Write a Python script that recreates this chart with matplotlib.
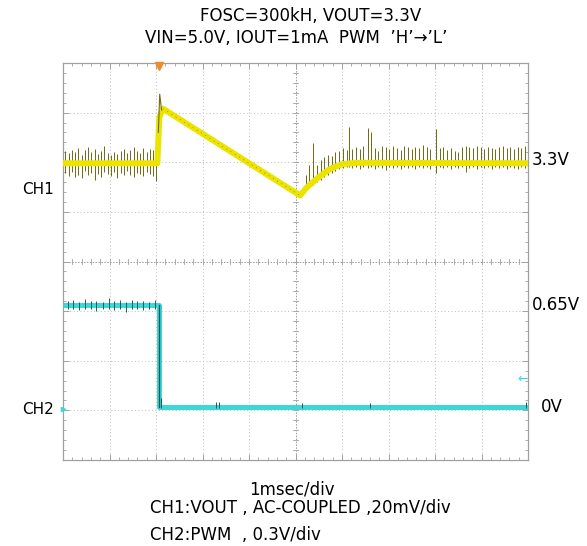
import numpy as np
import matplotlib
matplotlib.use("Agg")
from matplotlib import pyplot as plt

plt.rcParams['font.family'] = ['DejaVu Sans']

# screen units: x in divisions (0..10), y in divisions (-4..4)
ch1_x = [0.0, 2.03, 2.07, 2.15, 5.10, 5.25, 5.50, 5.75, 6.00, 6.30, 10.0]
ch1_y = [1.98, 1.98, 2.90, 3.08, 1.33, 1.50, 1.70, 1.87, 1.96, 1.99, 1.98]

ch1_spk_left_x = [0.05, 0.12, 0.19, 0.26, 0.33, 0.40, 0.47, 0.54, 0.61, 0.68,
                  0.75, 0.82, 0.89, 0.96, 1.03, 1.10, 1.17, 1.24, 1.31, 1.38,
                  1.45, 1.52, 1.59, 1.66, 1.73, 1.80, 1.87, 1.94, 2.00]
ch1_spk_left_top = [2.22, 2.18, 2.25, 2.20, 2.28, 2.15, 2.24, 2.30, 2.20, 2.26,
                    2.17, 2.22, 2.32, 2.19, 2.14, 2.20, 2.16, 2.23, 2.27, 2.18,
                    2.25, 2.31, 2.22, 2.19, 2.28, 2.21, 2.26, 2.24, 2.33]
ch1_spk_left_bot = [1.78, 1.72, 1.80, 1.70, 1.75, 1.68, 1.82, 1.74, 1.79, 1.65,
                    1.77, 1.71, 1.80, 1.76, 1.73, 1.81, 1.69, 1.78, 1.74, 1.82,
                    1.75, 1.70, 1.79, 1.76, 1.72, 1.80, 1.77, 1.73, 1.62]

ch1_spk_right_x = [5.22, 5.30, 5.38, 5.46, 5.54, 5.62, 5.70, 5.78, 5.86, 5.94,
                   6.02, 6.10, 6.15, 6.22, 6.30, 6.38, 6.46, 6.56, 6.62, 6.70,
                   6.78, 6.86, 6.94, 7.02, 7.10, 7.18, 7.26, 7.34, 7.42, 7.50,
                   7.58, 7.66, 7.74, 7.82, 7.90, 8.02, 8.10, 8.18, 8.26, 8.34,
                   8.42, 8.50, 8.58, 8.66, 8.74, 8.82, 8.90, 8.98, 9.06, 9.14,
                   9.22, 9.30, 9.38, 9.46, 9.54, 9.62, 9.70, 9.78, 9.86, 9.94]
ch1_spk_right_top = [1.75, 1.95, 2.38, 1.95, 2.05, 2.10, 2.15, 2.12, 2.20, 2.22,
                     2.28, 2.25, 2.72, 2.27, 2.30, 2.26, 2.32, 2.70, 2.60, 2.28,
                     2.22, 2.33, 2.30, 2.27, 2.32, 2.29, 2.25, 2.33, 2.30, 2.26,
                     2.31, 2.28, 2.34, 2.30, 2.27, 2.66, 2.28, 2.30, 2.25, 2.29,
                     2.22, 2.20, 2.30, 2.33, 2.31, 2.28, 2.32, 2.30, 2.27, 2.31,
                     2.29, 2.26, 2.30, 2.32, 2.28, 2.31, 2.27, 2.30, 2.29, 2.32]
ch1_spk_right_bot = [1.45, 1.50, 1.55, 1.60, 1.65, 1.70, 1.75, 1.78, 1.82, 1.86,
                     1.88, 1.90, 1.90, 1.88, 1.90, 1.86, 1.90, 1.88, 1.90, 1.87,
                     1.90, 1.88, 1.85, 1.90, 1.88, 1.90, 1.86, 1.90, 1.88, 1.90,
                     1.87, 1.90, 1.88, 1.90, 1.86, 1.78, 1.90, 1.88, 1.90, 1.87,
                     1.90, 1.88, 1.90, 1.80, 1.88, 1.90, 1.87, 1.90, 1.88, 1.90,
                     1.86, 1.90, 1.88, 1.90, 1.87, 1.90, 1.88, 1.86, 1.90, 1.88]

ch2_x = [0.0, 2.06, 2.06, 10.0]
ch2_y = [-0.88, -0.88, -2.93, -2.93]

ch2_spk_x = [0.10, 0.22, 0.35, 0.48, 0.60, 0.72, 0.85, 0.98, 1.10, 1.22,
             1.35, 1.48, 1.60, 1.72, 1.85, 1.98]
ch2_spk_top = [-0.80, -0.78, -0.82, -0.76, -0.80, -0.79, -0.81, -0.74, -0.80,
               -0.78, -0.82, -0.77, -0.80, -0.79, -0.81, -0.78]
ch2_spk_bot = [-0.96, -0.95, -0.97, -0.95, -0.96, -1.00, -0.95, -0.96, -0.97,
               -0.95, -1.02, -0.96, -0.95, -0.97, -0.96, -0.95]
ch2_low_spk_x = [2.10, 3.28, 3.35, 5.15, 6.60, 9.95]
ch2_low_spk_top = [-2.75, -2.83, -2.84, -2.85, -2.85, -2.84]

yellow = '#ece400'
olive = '#6e6a10'
cyan = '#3cd8d8'
teal = '#1e5a5a'
grid_c = '#bdbdbd'

fig = plt.figure(figsize=(5.87, 5.46), dpi=100)
ax = fig.add_axes([63 / 587, 1 - 460 / 546, 465 / 587, 397 / 546])
ax.set_xlim(0, 10)
ax.set_ylim(-4, 4)

# graticule
for gx in range(1, 10):
    if gx != 5:
        ax.axvline(gx, color=grid_c, lw=0.7, ls=(0, (1, 2.5)), zorder=0)
for gy in range(-3, 4):
    if gy != 0:
        ax.axhline(gy, color=grid_c, lw=0.7, ls=(0, (1, 2.5)), zorder=0)
ax.axvline(5, color='#9a9a9a', lw=0.7, ls=(0, (1.5, 1.5)), zorder=0)
ax.axhline(0, color='#9a9a9a', lw=0.7, ls=(0, (1.5, 1.5)), zorder=0)
for t in np.arange(0.2, 10, 0.2):
    ax.plot([t, t], [-0.06, 0.06], color='#a0a0a0', lw=0.6, zorder=0)
for t in np.arange(-3.8, 4, 0.2):
    ax.plot([4.94, 5.06], [t, t], color='#a0a0a0', lw=0.6, zorder=0)
ax.set_xticks(np.arange(0, 10.01, 1))
ax.set_yticks(np.arange(-4, 4.01, 1))
ax.set_xticks(np.arange(0, 10.01, 0.2), minor=True)
ax.set_yticks(np.arange(-4, 4.01, 0.2), minor=True)
ax.tick_params(which='both', direction='in', top=True, right=True,
               labelbottom=False, labelleft=False, color='#a0a0a0')
ax.tick_params(which='major', length=4, width=0.7)
ax.tick_params(which='minor', length=2, width=0.6)
for s in ax.spines.values():
    s.set_color('#a0a0a0')
    s.set_linewidth(0.9)

# CH1
ax.plot(ch1_x, ch1_y, color=yellow, lw=4.3, solid_capstyle='butt', zorder=3)
ax.vlines(ch1_spk_left_x, ch1_spk_left_bot, ch1_spk_left_top, color=olive, lw=0.7, zorder=2)
ax.vlines(ch1_spk_right_x, ch1_spk_right_bot, ch1_spk_right_top, color=olive, lw=0.7, zorder=2)
ax.plot([2.05, 2.08, 2.12], [2.6, 3.37, 3.05], color=olive, lw=0.8, zorder=4)
ax.plot(ch1_x[3:5], ch1_y[3:5], color=olive, lw=0.4, ls=(0, (2, 7)), zorder=4)

# CH2
ax.plot(ch2_x, ch2_y, color=cyan, lw=3.6, solid_capstyle='butt', zorder=3)
ax.plot(ch2_x[1:3], ch2_y[1:3], color=teal, lw=1.0, zorder=4)
ax.vlines(ch2_spk_x, ch2_spk_bot, ch2_spk_top, color=teal, lw=0.7, zorder=4)
ax.vlines(ch2_low_spk_x, -2.95, ch2_low_spk_top, color=teal, lw=0.7, zorder=4)

# markers
ax.plot([2.06], [3.93], marker='v', color='#f08a2a', ms=6, clip_on=False, zorder=5)
ax.plot([0.0], [-2.98], marker='>', color=cyan, ms=3, clip_on=False, zorder=5)
ax.text(9.88, -2.38, '←', color=cyan, fontsize=9, ha='center', va='center')

# labels
fs = 12
fig.text(311 / 587, 1 - 16 / 546, 'FOSC=300kH, VOUT=3.3V', ha='center', va='center', fontsize=fs)
fig.text(296 / 587, 1 - 38 / 546, 'VIN=5.0V, IOUT=1mA  PWM  \u2019H\u2019\u2192\u2019L\u2019',
         ha='center', va='center', fontsize=fs)
fig.text(22 / 587, 1 - 189 / 546, 'CH1', ha='left', va='center', fontsize=11)
fig.text(22 / 587, 1 - 410 / 546, 'CH2', ha='left', va='center', fontsize=11)
fig.text(532 / 587, 1 - 160 / 546, '3.3V', ha='left', va='center', fontsize=fs)
fig.text(532 / 587, 1 - 305 / 546, '0.65V', ha='left', va='center', fontsize=fs)
fig.text(541 / 587, 1 - 407 / 546, '0V', ha='left', va='center', fontsize=fs)
fig.text(292 / 587, 1 - 489 / 546, '1msec/div', ha='center', va='center', fontsize=fs)
fig.text(150 / 587, 1 - 508 / 546, 'CH1:VOUT , AC-COUPLED ,20mV/div', ha='left', va='center', fontsize=fs)
fig.text(150 / 587, 1 - 535 / 546, 'CH2:PWM  , 0.3V/div', ha='left', va='center', fontsize=fs)

fig.savefig('out.png', dpi=100, facecolor='white')
